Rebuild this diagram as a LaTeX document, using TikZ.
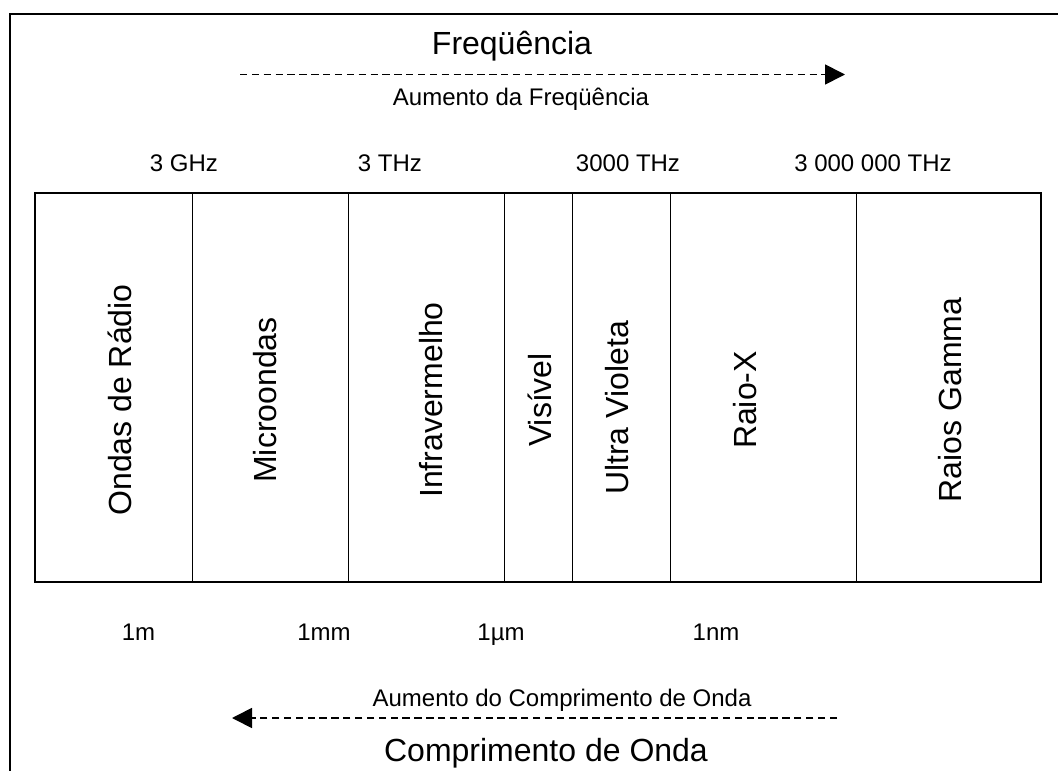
\documentclass[tikz,border=0pt]{standalone}
\usepackage{fontspec}
\setmainfont{Liberation Sans}
\usetikzlibrary{arrows.meta}
\begin{document}
\begin{tikzpicture}[x=0.75pt,y=-0.75pt,
        small/.style={font=\fontsize{18}{20}\selectfont,anchor=base},
        big/.style={font=\fontsize{24}{28}\selectfont,anchor=base},
        band/.style={font=\fontsize{24}{28}\selectfont,rotate=90},
        seta/.style={line width=1.3pt,dash pattern=on 5.5pt off 3.4pt,-{Triangle[length=15pt,width=15pt]}}]
        \useasboundingbox (0,0) rectangle (1058,771);
        \draw[line width=1.5pt](10,771) -- (10,14) -- (1058,14);
        \node[big] (freq) at (512,54.5) {Freqüência};
        \coordinate (fa) at (240,74.5);
        \coordinate (fb) at (845,74.5);
        \draw[seta](fa) -- (fb);
        \node[small] (aumf) at (521,105.5) {Aumento da Freqüência};
        \node[small] (ghz) at (184,171.5) {3 GHz};
        \node[small] (thz) at (390,171.5) {3 THz};
        \node[small] (thz3) at (628,171.5) {3000 THz};
        \node[small] (thz6) at (873,171.5) {3 000 000 THz};
        \draw[line width=1.5pt](35,193) rectangle (1041,582);
        \foreach \x in {192,348,504,572,670,856}
            \draw[line width=0.75pt](\x,193) -- (\x,582);
        \node[band] (radio) at (119.5,400) {Ondas de Rádio};
        \node[band] (micro) at (265.5,400) {Microondas};
        \node[band] (infra) at (431.5,400) {Infravermelho};
        \node[band] (vis) at (540,400) {Visível};
        \node[band] (uv) at (617,408) {Ultra Violeta};
        \node[band] (raiox) at (745,400) {Raio-X};
        \node[band] (gama) at (950,400) {Raios Gamma};
        \node[small] (m) at (138.5,640.5) {1m};
        \node[small] (mm) at (324,640.5) {1mm};
        \node[small] (um) at (501,640.5) {1µm};
        \node[small] (nm) at (716,640.5) {1nm};
        \node[small] (aumc) at (562,706.5) {Aumento do Comprimento de Onda};
        \coordinate (ca) at (837,718);
        \coordinate (cb) at (232,718);
        \draw[seta](ca) -- (cb);
        \node[big] (comp) at (546,761.5) {Comprimento de Onda};
    \end{tikzpicture}
\end{document}
